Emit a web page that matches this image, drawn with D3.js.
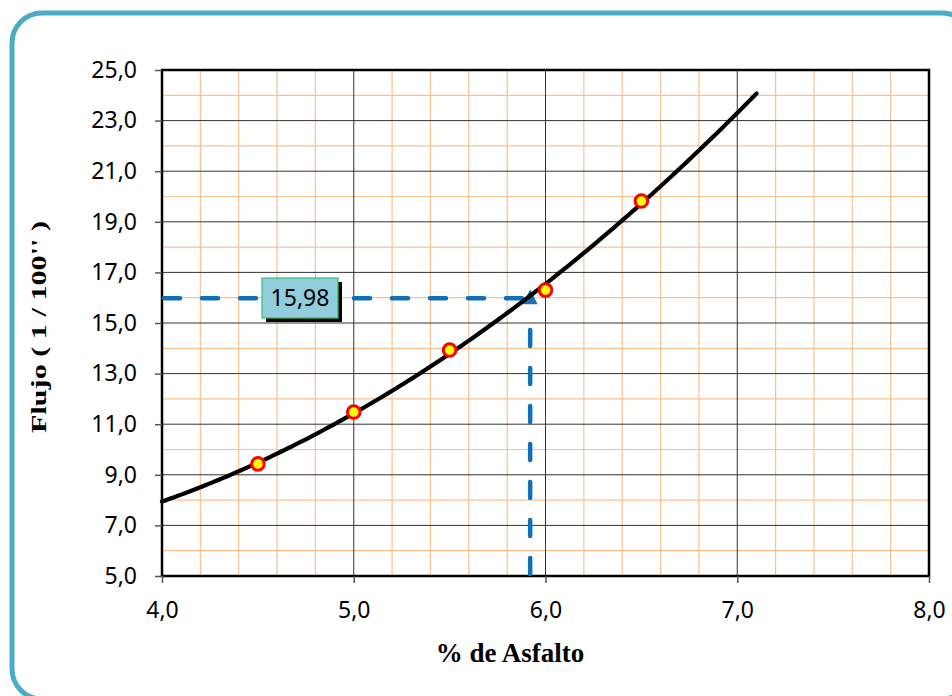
<!DOCTYPE html>
<html>
<head>
<meta charset="utf-8">
<script src="https://cdn.jsdelivr.net/npm/d3@7"></script>
<style>
  html, body { margin: 0; padding: 0; background: #fff; }
  svg { display: block; }
</style>
</head>
<body>
<svg id="chart" width="952" height="696"></svg>
<script>
// Marshall test: flow vs. asphalt content
const asphaltPct = [4.5, 5.0, 5.5, 6.0, 6.5];
const flowValues = [9.43, 11.48, 13.93, 16.30, 19.82];
const xTicks = [4.0, 5.0, 6.0, 7.0, 8.0];
const yTicks = [5.0, 7.0, 9.0, 11.0, 13.0, 15.0, 17.0, 19.0, 21.0, 23.0, 25.0];
const trendRange = [4.0, 7.1];
const designAsphalt = 5.92;
const designFlow = 15.98;

const svg = d3.select("#chart");
const fmt = v => d3.format(".1f")(v).replace(".", ",");

// Outer rounded frame
svg.append("rect")
  .attr("x", 12).attr("y", 13).attr("width", 960).attr("height", 686)
  .attr("rx", 30).attr("ry", 30)
  .attr("fill", "#fff").attr("stroke", "#4BACC6").attr("stroke-width", 5);

const plot = { left: 162, right: 929, top: 70, bottom: 576 };
const x = d3.scaleLinear().domain([4, 8]).range([plot.left, plot.right]);
const y = d3.scaleLinear().domain([5, 25]).range([plot.bottom, plot.top]);

const g = svg.append("g");

// Minor grid (orange)
const xMinor = d3.range(4, 8.0001, 0.2).filter(v => Math.abs(v - Math.round(v)) > 1e-6);
const yMinor = d3.range(6, 25, 2);
g.selectAll(".vminor").data(xMinor).join("line")
  .attr("x1", d => x(d)).attr("x2", d => x(d))
  .attr("y1", plot.top).attr("y2", plot.bottom)
  .attr("stroke", "#FAC090").attr("stroke-width", 1.2);
g.selectAll(".hminor").data(yMinor).join("line")
  .attr("x1", plot.left).attr("x2", plot.right)
  .attr("y1", d => y(d)).attr("y2", d => y(d))
  .attr("stroke", "#FAC090").attr("stroke-width", 1.2);

// Major grid (dark)
g.selectAll(".vmajor").data(xTicks.slice(1, -1)).join("line")
  .attr("x1", d => x(d)).attr("x2", d => x(d))
  .attr("y1", plot.top).attr("y2", plot.bottom)
  .attr("stroke", "#333").attr("stroke-width", 1);
g.selectAll(".hmajor").data(yTicks.slice(1, -1)).join("line")
  .attr("x1", plot.left).attr("x2", plot.right)
  .attr("y1", d => y(d)).attr("y2", d => y(d))
  .attr("stroke", "#333").attr("stroke-width", 1);

// Plot border
g.append("rect")
  .attr("x", plot.left).attr("y", plot.top)
  .attr("width", plot.right - plot.left).attr("height", plot.bottom - plot.top)
  .attr("fill", "none").attr("stroke", "#000").attr("stroke-width", 2.5);

// Axes
const font = "'Noto Sans', 'Open Sans', sans-serif";
const xAxis = svg.append("g").attr("transform", `translate(0,${plot.bottom})`)
  .call(d3.axisBottom(x).tickValues(xTicks).tickFormat(fmt).tickSize(7).tickPadding(19));
const yAxis = svg.append("g").attr("transform", `translate(${plot.left},0)`)
  .call(d3.axisLeft(y).tickValues(yTicks).tickFormat(fmt).tickSize(7).tickPadding(18));
[xAxis, yAxis].forEach(a => {
  a.select(".domain").remove();
  a.selectAll(".tick line").attr("stroke", "#555").attr("stroke-width", 1.5);
  a.selectAll(".tick text").attr("fill", "#000")
    .style("font-family", font).style("font-size", "23px");
});

// Quadratic trend line fitted to the data (least squares)
function quadFit(xs, ys) {
  const n = xs.length;
  const S = k => d3.sum(xs, v => Math.pow(v, k));
  const T = k => d3.sum(xs.map((v, i) => Math.pow(v, k) * ys[i]));
  const A = [[n, S(1), S(2)], [S(1), S(2), S(3)], [S(2), S(3), S(4)]];
  const B = [T(0), T(1), T(2)];
  for (let i = 0; i < 3; i++) {
    for (let j = i + 1; j < 3; j++) {
      const f = A[j][i] / A[i][i];
      for (let k = i; k < 3; k++) A[j][k] -= f * A[i][k];
      B[j] -= f * B[i];
    }
  }
  const c = [0, 0, 0];
  for (let i = 2; i >= 0; i--) {
    let s = B[i];
    for (let k = i + 1; k < 3; k++) s -= A[i][k] * c[k];
    c[i] = s / A[i][i];
  }
  return v => c[0] + c[1] * v + c[2] * v * v;
}
const trend = quadFit(asphaltPct, flowValues);
const trendPts = d3.range(trendRange[0], trendRange[1] + 1e-9, 0.02).map(v => [v, trend(v)]);

// Design value guide lines
const guide = svg.append("g")
  .attr("stroke", "#0F6FBA").attr("stroke-width", 4.5)
  .attr("stroke-linecap", "round").attr("stroke-dasharray", "16,22").attr("fill", "none");
guide.append("line")
  .attr("x1", x(4) + 2).attr("x2", x(designAsphalt) - 8)
  .attr("y1", y(designFlow)).attr("y2", y(designFlow));
guide.append("line")
  .attr("x1", x(designAsphalt)).attr("x2", x(designAsphalt))
  .attr("y1", y(5) - 2).attr("y2", y(designFlow) + 10);
// Arrow head
const ax = x(designAsphalt), ay = y(designFlow);
svg.append("path")
  .attr("d", `M${ax},${ay - 9} L${ax - 7.5},${ay + 6} L${ax + 7.5},${ay + 6} Z`)
  .attr("fill", "#1F6FB5");

// Trend curve
svg.append("path").datum(trendPts)
  .attr("d", d3.line().x(d => x(d[0])).y(d => y(d[1])))
  .attr("fill", "none").attr("stroke", "#000").attr("stroke-width", 4.2)
  .attr("stroke-linecap", "round");

// Data points
svg.selectAll(".pt").data(asphaltPct.map((v, i) => [v, flowValues[i]])).join("circle")
  .attr("cx", d => x(d[0])).attr("cy", d => y(d[1])).attr("r", 6.3)
  .attr("fill", "#FFFF00").attr("stroke", "#FF0000").attr("stroke-width", 3);

// Value label box with shadow
const bx = 262, by = 278, bw = 76, bh = 40;
svg.append("rect").attr("x", bx + 4).attr("y", by + 4).attr("width", bw).attr("height", bh).attr("fill", "#000");
svg.append("rect").attr("x", bx).attr("y", by).attr("width", bw).attr("height", bh)
  .attr("fill", "#92CDDC").attr("stroke", "#2FBF71").attr("stroke-width", 1.2);
svg.append("text").attr("x", bx + bw / 2).attr("y", by + bh / 2 + 8)
  .attr("text-anchor", "middle").style("font-family", font).style("font-size", "23px")
  .text(d3.format(".2f")(designFlow).replace(".", ","));

// Axis titles
svg.append("text").attr("x", 510).attr("y", 662).attr("text-anchor", "middle")
  .style("font-family", "'Liberation Serif', 'Times New Roman', serif")
  .style("font-weight", "bold").style("font-size", "27px")
  .text("% de Asfalto");
svg.append("text").attr("transform", "translate(46,327) rotate(-90)")
  .attr("text-anchor", "middle")
  .attr("textLength", 212).attr("lengthAdjust", "spacingAndGlyphs")
  .style("font-family", "'Liberation Serif', 'Times New Roman', serif")
  .style("font-weight", "bold").style("font-size", "21px")
  .text("Flujo ( 1 / 100'' )");
</script>
</body>
</html>
